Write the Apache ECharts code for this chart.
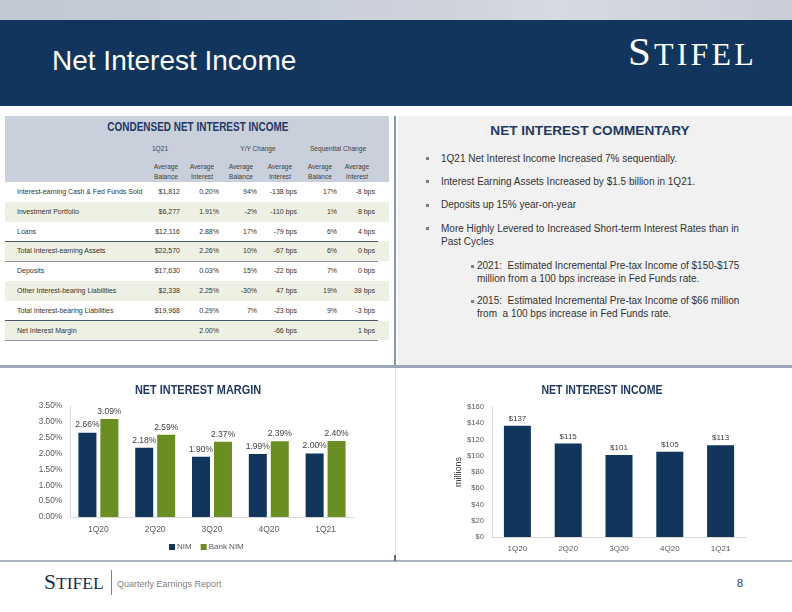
<!DOCTYPE html>
<html>
<head>
<meta charset="utf-8">
<script src="https://cdn.jsdelivr.net/npm/echarts@6/dist/echarts.min.js"></script>
<style>
  html,body{margin:0;padding:0;background:#fff;}
  #page{position:relative;width:792px;height:612px;overflow:hidden;background:#fff;font-family:'Liberation Sans',Arial,sans-serif;}
  .abs{position:absolute;}
  .cell{position:absolute;font-size:7px;color:#333;white-space:nowrap;line-height:10px;}
  .hdr{position:absolute;font-size:6.6px;color:#404040;white-space:nowrap;line-height:9.5px;text-align:center;}
  .bul{position:absolute;font-size:10px;color:#333;line-height:13.4px;white-space:nowrap;}
  .sq{position:absolute;width:3px;height:3px;background:#7f7f7f;}
</style>
</head>
<body>
<div id="page">
  <!-- top strip -->
  <div class="abs" style="left:0;top:0;width:792px;height:20px;background:linear-gradient(90deg,#c2c8d4 0%,#cdd2db 55%,#d6dae2 70%,#c8cdd7 100%);"></div>
  <!-- header band -->
  <div class="abs" style="left:0;top:20px;width:792px;height:86px;background:#11355c;"></div>
  <div class="abs" style="left:52px;top:44px;font-size:28px;line-height:34px;color:#fff;white-space:nowrap;">Net Interest Income</div>
  <div class="abs" style="left:628px;top:31px;color:#fff;font-family:'Liberation Serif','Times New Roman',serif;white-space:nowrap;line-height:40px;letter-spacing:3.2px;"><span style="font-size:41px;">S</span><span style="font-size:32px;">TIFEL</span></div>

  <!-- left table panel -->
  <div class="abs" style="left:5px;top:116px;width:384px;height:66px;background:#c9d0db;"></div>
  <div class="abs" style="left:5px;top:120px;width:384px;text-align:center;font-size:12px;line-height:15px;color:#1f3864;font-weight:bold;white-space:nowrap;transform:scaleX(0.83);transform-origin:197px 50%;">CONDENSED NET INTEREST INCOME</div>
  <div id="table"></div>

  <!-- vertical divider -->
  <div class="abs" style="left:394px;top:116px;width:2px;height:251px;background:#8896aa;"></div>
  <!-- right panel -->
  <div class="abs" style="left:398px;top:116px;width:394px;height:249px;background:#f1f1f1;"></div>
  <div class="abs" style="left:398px;top:122px;width:384px;text-align:center;font-size:13.6px;font-weight:bold;color:#1f3864;line-height:17px;white-space:nowrap;">NET INTEREST COMMENTARY</div>
  <div id="comment"></div>

  <!-- horizontal divider -->
  <div class="abs" style="left:0;top:365px;width:792px;height:3px;background:#9ba6b6;"></div>
  <div class="abs" style="left:395px;top:368px;width:1px;height:193px;background:#e6e9ee;"></div>
  <!-- bottom line -->
  <div class="abs" style="left:0;top:560px;width:792px;height:2px;background:#a9b3c2;"></div>
  <div class="abs" style="left:394px;top:555px;width:2px;height:6px;background:#5a6a82;"></div>

  <!-- charts -->
  <div id="chart" class="abs" style="left:0;top:370px;width:792px;height:190px;"></div>

  <!-- footer -->
  <div class="abs" style="left:44px;top:569px;color:#1c2f4f;font-family:'Liberation Serif','Times New Roman',serif;white-space:nowrap;line-height:26px;"><span style="font-size:21.5px;">S</span><span style="font-size:17.5px;">TIFEL</span></div>
  <div class="abs" style="left:111px;top:570px;width:1px;height:25px;background:#7f7f7f;"></div>
  <div class="abs" style="left:117px;top:578px;font-size:9px;line-height:12px;color:#808080;white-space:nowrap;">Quarterly Earnings Report</div>
  <div class="abs" style="left:737px;top:576px;font-size:11px;line-height:14px;color:#1f3864;">8</div>
</div>

<script>
// ---------- DATA ----------
const quarters = ['1Q20', '2Q20', '3Q20', '4Q20', '1Q21'];
const nimValues = [2.66, 2.18, 1.90, 1.99, 2.00];
const bankNimValues = [3.09, 2.59, 2.37, 2.39, 2.40];
const niiValues = [137, 115, 101, 105, 113];

const rowLabels = ['Interest-earning Cash & Fed Funds Sold', 'Investment Portfolio', 'Loans',
  'Total Interest-earning Assets', 'Deposits', 'Other Interest-bearing Liabilities',
  'Total Interest-bearing Liabilities', 'Net Interest Margin'];
const avgBalance = ['$1,812', '$6,277', '$12,116', '$22,570', '$17,630', '$2,338', '$19,968', ''];
const avgInterest = ['0.20%', '1.91%', '2.88%', '2.26%', '0.03%', '2.25%', '0.29%', '2.00%'];
const yoyBalance = ['94%', '-2%', '17%', '10%', '15%', '-30%', '7%', ''];
const yoyInterest = ['-138 bps', '-110 bps', '-79 bps', '-67 bps', '-22 bps', '47 bps', '-23 bps', '-66 bps'];
const seqBalance = ['17%', '1%', '6%', '6%', '7%', '19%', '9%', ''];
const seqInterest = ['-8 bps', '8 bps', '4 bps', '0 bps', '0 bps', '39 bps', '-3 bps', '1 bps'];
const groupHeaders = ['1Q21', 'Y/Y Change', 'Sequential Change'];
const subHeaders = [['Average', 'Balance'], ['Average', 'Interest'], ['Average', 'Balance'],
  ['Average', 'Interest'], ['Average', 'Balance'], ['Average', 'Interest']];

const commentary = [
  '1Q21 Net Interest Income Increased 7% sequentially.',
  'Interest Earning Assets Increased by $1.5 billion in 1Q21.',
  'Deposits up 15% year-on-year',
  'More Highly Levered to Increased Short-term Interest Rates than in<br>Past Cycles'
];
const subCommentary = [
  '2021:&nbsp; Estimated Incremental Pre-tax Income of $150-$175<br>million from a 100 bps increase in Fed Funds rate.',
  '2015:&nbsp; Estimated Incremental Pre-tax Income of $66 million<br>from&nbsp; a 100 bps increase in Fed Funds rate.'
];

// ---------- TABLE (HTML) ----------
(function buildTable() {
  const t = document.getElementById('table');
  let html = '';
  const grpX = [160, 258, 338];
  const grpW = 90;
  groupHeaders.forEach((g, i) => {
    html += `<div class="hdr" style="left:${grpX[i] - grpW / 2}px;top:144px;width:${grpW}px;">${g}</div>`;
  });
  const subX = [166, 202, 241, 280, 320, 357];
  subHeaders.forEach((s, i) => {
    html += `<div class="hdr" style="left:${subX[i] - 20}px;top:162px;width:40px;">${s[0]}<br>${s[1]}</div>`;
  });
  const rowTop = 182, rowH = 19.8;
  const cols = [avgBalance, avgInterest, yoyBalance, yoyInterest, seqBalance, seqInterest];
  const rightEdges = [180, 219, 257, 297, 337, 375];
  rowLabels.forEach((lab, r) => {
    const top = rowTop + r * rowH;
    if (r % 2 === 1) {
      html += `<div class="abs" style="left:5px;top:${top}px;width:384px;height:${rowH}px;background:#eef0e4;"></div>`;
    }
    const ty = top + rowH / 2 - 5;
    html += `<div class="cell" style="left:17px;top:${ty}px;">${lab}</div>`;
    cols.forEach((c, ci) => {
      if (c[r] !== '') {
        html += `<div class="cell" style="left:${rightEdges[ci] - 60}px;width:60px;text-align:right;top:${ty}px;">${c[r]}</div>`;
      }
    });
  });
  const lines = [[3, '#46566e', 1.5], [4, '#8c99ab', 1.2], [7, '#46566e', 1.5], [8, '#8c99ab', 1.2]];
  lines.forEach(([idx, col, h]) => {
    html += `<div class="abs" style="left:5px;top:${rowTop + idx * rowH - h / 2}px;width:373px;height:${h}px;background:${col};"></div>`;
  });
  t.innerHTML = html;
})();

// ---------- COMMENTARY (HTML) ----------
(function buildComment() {
  const c = document.getElementById('comment');
  let html = '';
  const ys = [158.3, 181.3, 205, 228.3];
  commentary.forEach((txt, i) => {
    html += `<div class="sq" style="left:426px;top:${ys[i] - 1}px;"></div>`;
    html += `<div class="bul" style="left:441px;top:${ys[i] - 6.7}px;">${txt}</div>`;
  });
  const sys = [265.7, 300.7];
  subCommentary.forEach((txt, i) => {
    html += `<div class="sq" style="left:471px;top:${sys[i] - 1}px;"></div>`;
    html += `<div class="bul" style="left:477px;top:${sys[i] - 6.7}px;">${txt}</div>`;
  });
  c.innerHTML = html;
})();

// ---------- CHARTS (ECharts) ----------
const navy = '#12355b';
const green = '#6b8e23';
const txtCol = '#404040';
const axCol = '#595959';
const fontFam = "'Liberation Sans', Arial, sans-serif";

const chart = echarts.init(document.getElementById('chart'), null, { renderer: 'canvas' });
const option = {
  animation: false,
  textStyle: { fontFamily: fontFam },
  graphic: [
    { type: 'text', x: 198, y: 20, scaleX: 0.84, style: { text: 'NET INTEREST MARGIN', fill: '#1f3864', font: 'bold 13px ' + fontFam, textAlign: 'center', textVerticalAlign: 'middle' } },
    { type: 'text', x: 602, y: 20, scaleX: 0.81, style: { text: 'NET INTEREST INCOME', fill: '#1f3864', font: 'bold 13px ' + fontFam, textAlign: 'center', textVerticalAlign: 'middle' } }
  ],
  legend: {
    data: ['NIM', 'Bank NIM'],
    left: 164, top: 168,
    icon: 'rect', itemWidth: 6, itemHeight: 6, itemGap: 9,
    textStyle: { fontSize: 8, color: axCol, padding: [0, 0, 0, -3] }
  },
  grid: [
    { left: 70, top: 36, width: 284, height: 111 },
    { left: 492, top: 37, width: 254, height: 130 }
  ],
  xAxis: [
    {
      type: 'category', gridIndex: 0, data: quarters,
      axisLine: { show: true, lineStyle: { color: '#d9d9d9' } }, axisTick: { show: false },
      axisLabel: { fontSize: 8.5, color: axCol, margin: 8 }
    },
    {
      type: 'category', gridIndex: 1, data: quarters,
      axisLine: { show: true, lineStyle: { color: '#d9d9d9' } }, axisTick: { show: false },
      axisLabel: { fontSize: 8, color: axCol, margin: 8 }
    }
  ],
  yAxis: [
    {
      type: 'value', gridIndex: 0, min: 0, max: 3.5, interval: 0.5,
      axisLine: { show: true, lineStyle: { color: '#d9d9d9' } }, axisTick: { show: false },
      splitLine: { show: false },
      axisLabel: { fontSize: 8.2, color: axCol, margin: 8, formatter: v => v.toFixed(2) + '%' }
    },
    {
      type: 'value', gridIndex: 1, min: 0, max: 160, interval: 20,
      axisLine: { show: true, lineStyle: { color: '#d9d9d9' } }, axisTick: { show: false },
      splitLine: { show: false },
      name: 'millions', nameLocation: 'middle', nameRotate: 90, nameGap: 29,
      nameTextStyle: { fontSize: 9, color: txtCol },
      axisLabel: { fontSize: 7.6, color: axCol, margin: 8, formatter: v => '$' + v }
    }
  ],
  series: [
    {
      name: 'NIM', type: 'bar', xAxisIndex: 0, yAxisIndex: 0, data: nimValues,
      barWidth: 18, barGap: '22%', itemStyle: { color: navy },
      label: { show: true, position: 'top', distance: 3, fontSize: 8.5, color: txtCol, formatter: p => p.value.toFixed(2) + '%' }
    },
    {
      name: 'Bank NIM', type: 'bar', xAxisIndex: 0, yAxisIndex: 0, data: bankNimValues,
      barWidth: 18, barGap: '22%', itemStyle: { color: green },
      label: { show: true, position: 'top', distance: 3, fontSize: 8.5, color: txtCol, formatter: p => p.value.toFixed(2) + '%' }
    },
    {
      name: 'Net Interest Income', type: 'bar', xAxisIndex: 1, yAxisIndex: 1, data: niiValues,
      barWidth: 27, itemStyle: { color: navy },
      label: { show: true, position: 'top', distance: 3, fontSize: 8, color: txtCol, formatter: p => '$' + p.value }
    }
  ]
};
chart.setOption(option);
</script>
</body>
</html>
